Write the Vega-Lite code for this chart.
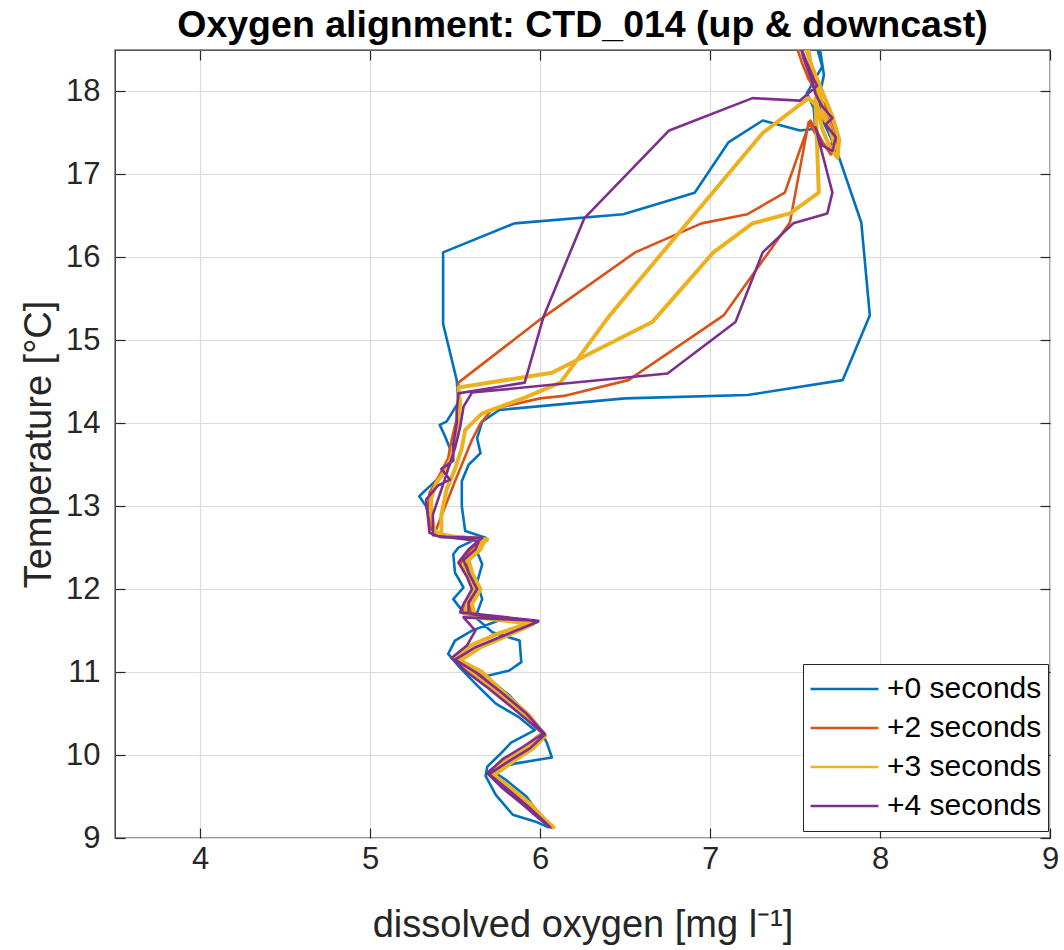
{
"$schema": "https://vega.github.io/schema/vega-lite/v6.json",
"width": 935, "height": 788,
"autosize": {"type": "none"},
"padding": {"left": 115, "top": 50, "right": 14, "bottom": 112},
"background": "white",
"config": {"view": {"stroke": "#262626", "strokeWidth": 1.3}, "font": "Liberation Sans"},
"title": {"text": "Oxygen alignment: CTD_014 (up & downcast)", "fontSize": 37.5, "font": "Liberation Sans", "fontWeight": "bold", "anchor": "middle", "offset": -3, "color": "black"},
"data": {"values": [
{"series":"+0 seconds","i":1,"oxygen":7.62,"temp":18.6},
{"series":"+0 seconds","i":2,"oxygen":7.66,"temp":18.3},
{"series":"+0 seconds","i":3,"oxygen":7.57,"temp":17.98},
{"series":"+0 seconds","i":4,"oxygen":7.61,"temp":17.8},
{"series":"+0 seconds","i":5,"oxygen":7.62,"temp":17.55},
{"series":"+0 seconds","i":6,"oxygen":7.53,"temp":17.53},
{"series":"+0 seconds","i":7,"oxygen":7.31,"temp":17.65},
{"series":"+0 seconds","i":8,"oxygen":7.11,"temp":17.39},
{"series":"+0 seconds","i":9,"oxygen":6.91,"temp":16.78},
{"series":"+0 seconds","i":10,"oxygen":6.49,"temp":16.52},
{"series":"+0 seconds","i":11,"oxygen":5.85,"temp":16.41},
{"series":"+0 seconds","i":12,"oxygen":5.43,"temp":16.06},
{"series":"+0 seconds","i":13,"oxygen":5.43,"temp":15.2},
{"series":"+0 seconds","i":14,"oxygen":5.51,"temp":14.52},
{"series":"+0 seconds","i":15,"oxygen":5.52,"temp":14.25},
{"series":"+0 seconds","i":16,"oxygen":5.45,"temp":14.02},
{"series":"+0 seconds","i":17,"oxygen":5.41,"temp":13.98},
{"series":"+0 seconds","i":18,"oxygen":5.44,"temp":13.85},
{"series":"+0 seconds","i":19,"oxygen":5.47,"temp":13.7},
{"series":"+0 seconds","i":20,"oxygen":5.47,"temp":13.5},
{"series":"+0 seconds","i":21,"oxygen":5.40,"temp":13.33},
{"series":"+0 seconds","i":22,"oxygen":5.33,"temp":13.2},
{"series":"+0 seconds","i":23,"oxygen":5.29,"temp":13.12},
{"series":"+0 seconds","i":24,"oxygen":5.33,"temp":13.0},
{"series":"+0 seconds","i":25,"oxygen":5.36,"temp":12.75},
{"series":"+0 seconds","i":26,"oxygen":5.42,"temp":12.63},
{"series":"+0 seconds","i":27,"oxygen":5.62,"temp":12.6},
{"series":"+0 seconds","i":28,"oxygen":5.52,"temp":12.5},
{"series":"+0 seconds","i":29,"oxygen":5.49,"temp":12.42},
{"series":"+0 seconds","i":30,"oxygen":5.5,"temp":12.2},
{"series":"+0 seconds","i":31,"oxygen":5.55,"temp":12.02},
{"series":"+0 seconds","i":32,"oxygen":5.49,"temp":11.88},
{"series":"+0 seconds","i":33,"oxygen":5.55,"temp":11.72},
{"series":"+0 seconds","i":34,"oxygen":5.78,"temp":11.64},
{"series":"+0 seconds","i":35,"oxygen":5.6,"temp":11.5},
{"series":"+0 seconds","i":36,"oxygen":5.5,"temp":11.38},
{"series":"+0 seconds","i":37,"oxygen":5.46,"temp":11.22},
{"series":"+0 seconds","i":38,"oxygen":5.53,"temp":11.05},
{"series":"+0 seconds","i":39,"oxygen":5.64,"temp":10.82},
{"series":"+0 seconds","i":40,"oxygen":5.74,"temp":10.62},
{"series":"+0 seconds","i":41,"oxygen":5.88,"temp":10.45},
{"series":"+0 seconds","i":42,"oxygen":5.97,"temp":10.3},
{"series":"+0 seconds","i":43,"oxygen":5.83,"temp":10.15},
{"series":"+0 seconds","i":44,"oxygen":5.76,"temp":10.0},
{"series":"+0 seconds","i":45,"oxygen":5.69,"temp":9.86},
{"series":"+0 seconds","i":46,"oxygen":5.68,"temp":9.75},
{"series":"+0 seconds","i":47,"oxygen":5.74,"temp":9.52},
{"series":"+0 seconds","i":48,"oxygen":5.84,"temp":9.28},
{"series":"+0 seconds","i":49,"oxygen":5.97,"temp":9.2},
{"series":"+0 seconds","i":50,"oxygen":6.05,"temp":9.13},
{"series":"+0 seconds","i":51,"oxygen":5.99,"temp":9.3},
{"series":"+0 seconds","i":52,"oxygen":5.92,"temp":9.5},
{"series":"+0 seconds","i":53,"oxygen":5.8,"temp":9.7},
{"series":"+0 seconds","i":54,"oxygen":5.71,"temp":9.82},
{"series":"+0 seconds","i":55,"oxygen":5.86,"temp":9.9},
{"series":"+0 seconds","i":56,"oxygen":6.07,"temp":9.97},
{"series":"+0 seconds","i":57,"oxygen":6.04,"temp":10.15},
{"series":"+0 seconds","i":58,"oxygen":6.0,"temp":10.3},
{"series":"+0 seconds","i":59,"oxygen":5.92,"temp":10.5},
{"series":"+0 seconds","i":60,"oxygen":5.82,"temp":10.72},
{"series":"+0 seconds","i":61,"oxygen":5.68,"temp":10.95},
{"series":"+0 seconds","i":62,"oxygen":5.82,"temp":11.02},
{"series":"+0 seconds","i":63,"oxygen":5.89,"temp":11.12},
{"series":"+0 seconds","i":64,"oxygen":5.88,"temp":11.38},
{"series":"+0 seconds","i":65,"oxygen":5.72,"temp":11.48},
{"series":"+0 seconds","i":66,"oxygen":5.62,"temp":11.66},
{"series":"+0 seconds","i":67,"oxygen":5.66,"temp":11.88},
{"series":"+0 seconds","i":68,"oxygen":5.63,"temp":12.08},
{"series":"+0 seconds","i":69,"oxygen":5.66,"temp":12.3},
{"series":"+0 seconds","i":70,"oxygen":5.62,"temp":12.5},
{"series":"+0 seconds","i":71,"oxygen":5.68,"temp":12.62},
{"series":"+0 seconds","i":72,"oxygen":5.56,"temp":12.7},
{"series":"+0 seconds","i":73,"oxygen":5.54,"temp":13.0},
{"series":"+0 seconds","i":74,"oxygen":5.54,"temp":13.3},
{"series":"+0 seconds","i":75,"oxygen":5.58,"temp":13.5},
{"series":"+0 seconds","i":76,"oxygen":5.65,"temp":13.64},
{"series":"+0 seconds","i":77,"oxygen":5.63,"temp":13.82},
{"series":"+0 seconds","i":78,"oxygen":5.66,"temp":14.02},
{"series":"+0 seconds","i":79,"oxygen":5.76,"temp":14.16},
{"series":"+0 seconds","i":80,"oxygen":6.5,"temp":14.3},
{"series":"+0 seconds","i":81,"oxygen":7.22,"temp":14.34},
{"series":"+0 seconds","i":82,"oxygen":7.78,"temp":14.52},
{"series":"+0 seconds","i":83,"oxygen":7.94,"temp":15.3},
{"series":"+0 seconds","i":84,"oxygen":7.89,"temp":16.42},
{"series":"+0 seconds","i":85,"oxygen":7.76,"temp":17.2},
{"series":"+0 seconds","i":86,"oxygen":7.72,"temp":17.4},
{"series":"+0 seconds","i":87,"oxygen":7.67,"temp":17.62},
{"series":"+0 seconds","i":88,"oxygen":7.64,"temp":17.9},
{"series":"+0 seconds","i":89,"oxygen":7.67,"temp":18.2},
{"series":"+0 seconds","i":90,"oxygen":7.64,"temp":18.6},
{"series":"+2 seconds","i":1,"oxygen":7.50,"temp":18.6},
{"series":"+2 seconds","i":2,"oxygen":7.54,"temp":18.35},
{"series":"+2 seconds","i":3,"oxygen":7.58,"temp":18.15},
{"series":"+2 seconds","i":4,"oxygen":7.64,"temp":17.95},
{"series":"+2 seconds","i":5,"oxygen":7.70,"temp":17.75},
{"series":"+2 seconds","i":6,"oxygen":7.74,"temp":17.5},
{"series":"+2 seconds","i":7,"oxygen":7.75,"temp":17.3},
{"series":"+2 seconds","i":8,"oxygen":7.71,"temp":17.24},
{"series":"+2 seconds","i":9,"oxygen":7.66,"temp":17.4},
{"series":"+2 seconds","i":10,"oxygen":7.62,"temp":17.55},
{"series":"+2 seconds","i":11,"oxygen":7.59,"temp":17.65},
{"series":"+2 seconds","i":12,"oxygen":7.44,"temp":16.78},
{"series":"+2 seconds","i":13,"oxygen":7.22,"temp":16.52},
{"series":"+2 seconds","i":14,"oxygen":6.95,"temp":16.41},
{"series":"+2 seconds","i":15,"oxygen":6.56,"temp":16.06},
{"series":"+2 seconds","i":16,"oxygen":6.0,"temp":15.25},
{"series":"+2 seconds","i":17,"oxygen":5.52,"temp":14.49},
{"series":"+2 seconds","i":18,"oxygen":5.52,"temp":14.3},
{"series":"+2 seconds","i":19,"oxygen":5.51,"temp":14.05},
{"series":"+2 seconds","i":20,"oxygen":5.48,"temp":13.8},
{"series":"+2 seconds","i":21,"oxygen":5.46,"temp":13.58},
{"series":"+2 seconds","i":22,"oxygen":5.41,"temp":13.38},
{"series":"+2 seconds","i":23,"oxygen":5.35,"temp":13.16},
{"series":"+2 seconds","i":24,"oxygen":5.34,"temp":12.95},
{"series":"+2 seconds","i":25,"oxygen":5.36,"temp":12.72},
{"series":"+2 seconds","i":26,"oxygen":5.42,"temp":12.65},
{"series":"+2 seconds","i":27,"oxygen":5.67,"temp":12.61},
{"series":"+2 seconds","i":28,"oxygen":5.59,"temp":12.47},
{"series":"+2 seconds","i":29,"oxygen":5.53,"temp":12.3},
{"series":"+2 seconds","i":30,"oxygen":5.58,"temp":12.15},
{"series":"+2 seconds","i":31,"oxygen":5.61,"temp":12.0},
{"series":"+2 seconds","i":32,"oxygen":5.56,"temp":11.82},
{"series":"+2 seconds","i":33,"oxygen":5.55,"temp":11.7},
{"series":"+2 seconds","i":34,"oxygen":5.97,"temp":11.62},
{"series":"+2 seconds","i":35,"oxygen":5.78,"temp":11.48},
{"series":"+2 seconds","i":36,"oxygen":5.59,"temp":11.32},
{"series":"+2 seconds","i":37,"oxygen":5.49,"temp":11.18},
{"series":"+2 seconds","i":38,"oxygen":5.58,"temp":11.0},
{"series":"+2 seconds","i":39,"oxygen":5.71,"temp":10.8},
{"series":"+2 seconds","i":40,"oxygen":5.86,"temp":10.55},
{"series":"+2 seconds","i":41,"oxygen":6.01,"temp":10.27},
{"series":"+2 seconds","i":42,"oxygen":5.91,"temp":10.1},
{"series":"+2 seconds","i":43,"oxygen":5.79,"temp":9.95},
{"series":"+2 seconds","i":44,"oxygen":5.70,"temp":9.8},
{"series":"+2 seconds","i":45,"oxygen":5.79,"temp":9.6},
{"series":"+2 seconds","i":46,"oxygen":5.91,"temp":9.4},
{"series":"+2 seconds","i":47,"oxygen":5.99,"temp":9.25},
{"series":"+2 seconds","i":48,"oxygen":6.07,"temp":9.12},
{"series":"+2 seconds","i":49,"oxygen":6.02,"temp":9.2},
{"series":"+2 seconds","i":50,"oxygen":5.94,"temp":9.38},
{"series":"+2 seconds","i":51,"oxygen":5.82,"temp":9.58},
{"series":"+2 seconds","i":52,"oxygen":5.71,"temp":9.77},
{"series":"+2 seconds","i":53,"oxygen":5.82,"temp":9.93},
{"series":"+2 seconds","i":54,"oxygen":5.95,"temp":10.08},
{"series":"+2 seconds","i":55,"oxygen":6.03,"temp":10.24},
{"series":"+2 seconds","i":56,"oxygen":5.93,"temp":10.48},
{"series":"+2 seconds","i":57,"oxygen":5.79,"temp":10.74},
{"series":"+2 seconds","i":58,"oxygen":5.64,"temp":11.0},
{"series":"+2 seconds","i":59,"oxygen":5.52,"temp":11.14},
{"series":"+2 seconds","i":60,"oxygen":5.63,"temp":11.3},
{"series":"+2 seconds","i":61,"oxygen":5.8,"temp":11.45},
{"series":"+2 seconds","i":62,"oxygen":5.98,"temp":11.6},
{"series":"+2 seconds","i":63,"oxygen":5.6,"temp":11.67},
{"series":"+2 seconds","i":64,"oxygen":5.59,"temp":11.82},
{"series":"+2 seconds","i":65,"oxygen":5.64,"temp":12.0},
{"series":"+2 seconds","i":66,"oxygen":5.59,"temp":12.2},
{"series":"+2 seconds","i":67,"oxygen":5.56,"temp":12.35},
{"series":"+2 seconds","i":68,"oxygen":5.64,"temp":12.48},
{"series":"+2 seconds","i":69,"oxygen":5.66,"temp":12.58},
{"series":"+2 seconds","i":70,"oxygen":5.38,"temp":12.67},
{"series":"+2 seconds","i":71,"oxygen":5.5,"temp":13.3},
{"series":"+2 seconds","i":72,"oxygen":5.6,"temp":13.8},
{"series":"+2 seconds","i":73,"oxygen":5.65,"temp":14.0},
{"series":"+2 seconds","i":74,"oxygen":5.72,"temp":14.17},
{"series":"+2 seconds","i":75,"oxygen":6.0,"temp":14.3},
{"series":"+2 seconds","i":76,"oxygen":6.14,"temp":14.33},
{"series":"+2 seconds","i":77,"oxygen":6.52,"temp":14.52},
{"series":"+2 seconds","i":78,"oxygen":7.08,"temp":15.3},
{"series":"+2 seconds","i":79,"oxygen":7.47,"temp":16.42},
{"series":"+2 seconds","i":80,"oxygen":7.58,"temp":17.63},
{"series":"+2 seconds","i":81,"oxygen":7.64,"temp":17.42},
{"series":"+2 seconds","i":82,"oxygen":7.7,"temp":17.3},
{"series":"+2 seconds","i":83,"oxygen":7.73,"temp":17.45},
{"series":"+2 seconds","i":84,"oxygen":7.69,"temp":17.7},
{"series":"+2 seconds","i":85,"oxygen":7.64,"temp":17.92},
{"series":"+2 seconds","i":86,"oxygen":7.6,"temp":18.12},
{"series":"+2 seconds","i":87,"oxygen":7.56,"temp":18.35},
{"series":"+2 seconds","i":88,"oxygen":7.52,"temp":18.6},
{"series":"+3 seconds","i":1,"oxygen":7.55,"temp":18.6},
{"series":"+3 seconds","i":2,"oxygen":7.6,"temp":18.3},
{"series":"+3 seconds","i":3,"oxygen":7.66,"temp":18.0},
{"series":"+3 seconds","i":4,"oxygen":7.72,"temp":17.7},
{"series":"+3 seconds","i":5,"oxygen":7.76,"temp":17.42},
{"series":"+3 seconds","i":6,"oxygen":7.75,"temp":17.2},
{"series":"+3 seconds","i":7,"oxygen":7.7,"temp":17.35},
{"series":"+3 seconds","i":8,"oxygen":7.66,"temp":17.55},
{"series":"+3 seconds","i":9,"oxygen":7.64,"temp":17.75},
{"series":"+3 seconds","i":10,"oxygen":7.62,"temp":17.92},
{"series":"+3 seconds","i":11,"oxygen":7.64,"temp":16.78},
{"series":"+3 seconds","i":12,"oxygen":7.47,"temp":16.53},
{"series":"+3 seconds","i":13,"oxygen":7.25,"temp":16.41},
{"series":"+3 seconds","i":14,"oxygen":7.02,"temp":16.06},
{"series":"+3 seconds","i":15,"oxygen":6.66,"temp":15.22},
{"series":"+3 seconds","i":16,"oxygen":6.07,"temp":14.61},
{"series":"+3 seconds","i":17,"oxygen":5.52,"temp":14.43},
{"series":"+3 seconds","i":18,"oxygen":5.53,"temp":14.25},
{"series":"+3 seconds","i":19,"oxygen":5.52,"temp":14.05},
{"series":"+3 seconds","i":20,"oxygen":5.50,"temp":13.8},
{"series":"+3 seconds","i":21,"oxygen":5.48,"temp":13.6},
{"series":"+3 seconds","i":22,"oxygen":5.44,"temp":13.42},
{"series":"+3 seconds","i":23,"oxygen":5.39,"temp":13.28},
{"series":"+3 seconds","i":24,"oxygen":5.36,"temp":13.1},
{"series":"+3 seconds","i":25,"oxygen":5.36,"temp":12.9},
{"series":"+3 seconds","i":26,"oxygen":5.38,"temp":12.7},
{"series":"+3 seconds","i":27,"oxygen":5.44,"temp":12.64},
{"series":"+3 seconds","i":28,"oxygen":5.69,"temp":12.6},
{"series":"+3 seconds","i":29,"oxygen":5.61,"temp":12.46},
{"series":"+3 seconds","i":30,"oxygen":5.55,"temp":12.3},
{"series":"+3 seconds","i":31,"oxygen":5.59,"temp":12.13},
{"series":"+3 seconds","i":32,"oxygen":5.62,"temp":12.0},
{"series":"+3 seconds","i":33,"oxygen":5.57,"temp":11.82},
{"series":"+3 seconds","i":34,"oxygen":5.56,"temp":11.7},
{"series":"+3 seconds","i":35,"oxygen":5.95,"temp":11.6},
{"series":"+3 seconds","i":36,"oxygen":5.76,"temp":11.47},
{"series":"+3 seconds","i":37,"oxygen":5.6,"temp":11.33},
{"series":"+3 seconds","i":38,"oxygen":5.5,"temp":11.19},
{"series":"+3 seconds","i":39,"oxygen":5.59,"temp":11.0},
{"series":"+3 seconds","i":40,"oxygen":5.72,"temp":10.8},
{"series":"+3 seconds","i":41,"oxygen":5.87,"temp":10.55},
{"series":"+3 seconds","i":42,"oxygen":6.02,"temp":10.27},
{"series":"+3 seconds","i":43,"oxygen":5.92,"temp":10.1},
{"series":"+3 seconds","i":44,"oxygen":5.8,"temp":9.95},
{"series":"+3 seconds","i":45,"oxygen":5.71,"temp":9.79},
{"series":"+3 seconds","i":46,"oxygen":5.8,"temp":9.6},
{"series":"+3 seconds","i":47,"oxygen":5.92,"temp":9.4},
{"series":"+3 seconds","i":48,"oxygen":6.0,"temp":9.25},
{"series":"+3 seconds","i":49,"oxygen":6.08,"temp":9.13},
{"series":"+3 seconds","i":50,"oxygen":6.03,"temp":9.22},
{"series":"+3 seconds","i":51,"oxygen":5.95,"temp":9.4},
{"series":"+3 seconds","i":52,"oxygen":5.84,"temp":9.58},
{"series":"+3 seconds","i":53,"oxygen":5.73,"temp":9.76},
{"series":"+3 seconds","i":54,"oxygen":5.84,"temp":9.92},
{"series":"+3 seconds","i":55,"oxygen":5.96,"temp":10.08},
{"series":"+3 seconds","i":56,"oxygen":6.03,"temp":10.23},
{"series":"+3 seconds","i":57,"oxygen":5.94,"temp":10.47},
{"series":"+3 seconds","i":58,"oxygen":5.8,"temp":10.73},
{"series":"+3 seconds","i":59,"oxygen":5.66,"temp":11.0},
{"series":"+3 seconds","i":60,"oxygen":5.53,"temp":11.14},
{"series":"+3 seconds","i":61,"oxygen":5.65,"temp":11.3},
{"series":"+3 seconds","i":62,"oxygen":5.82,"temp":11.45},
{"series":"+3 seconds","i":63,"oxygen":5.96,"temp":11.58},
{"series":"+3 seconds","i":64,"oxygen":5.62,"temp":11.66},
{"series":"+3 seconds","i":65,"oxygen":5.6,"temp":11.82},
{"series":"+3 seconds","i":66,"oxygen":5.65,"temp":12.0},
{"series":"+3 seconds","i":67,"oxygen":5.6,"temp":12.2},
{"series":"+3 seconds","i":68,"oxygen":5.58,"temp":12.35},
{"series":"+3 seconds","i":69,"oxygen":5.65,"temp":12.48},
{"series":"+3 seconds","i":70,"oxygen":5.67,"temp":12.57},
{"series":"+3 seconds","i":71,"oxygen":5.42,"temp":12.66},
{"series":"+3 seconds","i":72,"oxygen":5.42,"temp":12.9},
{"series":"+3 seconds","i":73,"oxygen":5.45,"temp":13.2},
{"series":"+3 seconds","i":74,"oxygen":5.5,"temp":13.45},
{"series":"+3 seconds","i":75,"oxygen":5.54,"temp":13.7},
{"series":"+3 seconds","i":76,"oxygen":5.56,"temp":13.92},
{"series":"+3 seconds","i":77,"oxygen":5.66,"temp":14.12},
{"series":"+3 seconds","i":78,"oxygen":5.9,"temp":14.3},
{"series":"+3 seconds","i":79,"oxygen":6.12,"temp":14.49},
{"series":"+3 seconds","i":80,"oxygen":6.41,"temp":15.3},
{"series":"+3 seconds","i":81,"oxygen":7.31,"temp":17.5},
{"series":"+3 seconds","i":82,"oxygen":7.58,"temp":17.92},
{"series":"+3 seconds","i":83,"oxygen":7.63,"temp":17.82},
{"series":"+3 seconds","i":84,"oxygen":7.7,"temp":17.58},
{"series":"+3 seconds","i":85,"oxygen":7.74,"temp":17.32},
{"series":"+3 seconds","i":86,"oxygen":7.71,"temp":17.52},
{"series":"+3 seconds","i":87,"oxygen":7.67,"temp":17.76},
{"series":"+3 seconds","i":88,"oxygen":7.64,"temp":18.0},
{"series":"+3 seconds","i":89,"oxygen":7.6,"temp":18.25},
{"series":"+3 seconds","i":90,"oxygen":7.57,"temp":18.6},
{"series":"+4 seconds","i":1,"oxygen":7.52,"temp":18.6},
{"series":"+4 seconds","i":2,"oxygen":7.57,"temp":18.35},
{"series":"+4 seconds","i":3,"oxygen":7.61,"temp":18.15},
{"series":"+4 seconds","i":4,"oxygen":7.63,"temp":18.07},
{"series":"+4 seconds","i":5,"oxygen":7.53,"temp":17.89},
{"series":"+4 seconds","i":6,"oxygen":7.25,"temp":17.92},
{"series":"+4 seconds","i":7,"oxygen":6.76,"temp":17.53},
{"series":"+4 seconds","i":8,"oxygen":6.26,"temp":16.47},
{"series":"+4 seconds","i":9,"oxygen":6.02,"temp":15.28},
{"series":"+4 seconds","i":10,"oxygen":5.91,"temp":14.49},
{"series":"+4 seconds","i":11,"oxygen":5.52,"temp":14.36},
{"series":"+4 seconds","i":12,"oxygen":5.51,"temp":14.15},
{"series":"+4 seconds","i":13,"oxygen":5.51,"temp":14.0},
{"series":"+4 seconds","i":14,"oxygen":5.49,"temp":13.75},
{"series":"+4 seconds","i":15,"oxygen":5.49,"temp":13.55},
{"series":"+4 seconds","i":16,"oxygen":5.42,"temp":13.45},
{"series":"+4 seconds","i":17,"oxygen":5.47,"temp":13.32},
{"series":"+4 seconds","i":18,"oxygen":5.4,"temp":13.25},
{"series":"+4 seconds","i":19,"oxygen":5.33,"temp":13.08},
{"series":"+4 seconds","i":20,"oxygen":5.34,"temp":12.88},
{"series":"+4 seconds","i":21,"oxygen":5.35,"temp":12.68},
{"series":"+4 seconds","i":22,"oxygen":5.41,"temp":12.63},
{"series":"+4 seconds","i":23,"oxygen":5.66,"temp":12.62},
{"series":"+4 seconds","i":24,"oxygen":5.58,"temp":12.48},
{"series":"+4 seconds","i":25,"oxygen":5.52,"temp":12.32},
{"series":"+4 seconds","i":26,"oxygen":5.57,"temp":12.15},
{"series":"+4 seconds","i":27,"oxygen":5.6,"temp":12.0},
{"series":"+4 seconds","i":28,"oxygen":5.55,"temp":11.82},
{"series":"+4 seconds","i":29,"oxygen":5.53,"temp":11.72},
{"series":"+4 seconds","i":30,"oxygen":5.99,"temp":11.62},
{"series":"+4 seconds","i":31,"oxygen":5.55,"temp":11.66},
{"series":"+4 seconds","i":32,"oxygen":5.62,"temp":11.5},
{"series":"+4 seconds","i":33,"oxygen":5.57,"temp":11.32},
{"series":"+4 seconds","i":34,"oxygen":5.48,"temp":11.17},
{"series":"+4 seconds","i":35,"oxygen":5.57,"temp":11.0},
{"series":"+4 seconds","i":36,"oxygen":5.7,"temp":10.8},
{"series":"+4 seconds","i":37,"oxygen":5.85,"temp":10.55},
{"series":"+4 seconds","i":38,"oxygen":6.02,"temp":10.26},
{"series":"+4 seconds","i":39,"oxygen":5.9,"temp":10.1},
{"series":"+4 seconds","i":40,"oxygen":5.78,"temp":9.95},
{"series":"+4 seconds","i":41,"oxygen":5.69,"temp":9.78},
{"series":"+4 seconds","i":42,"oxygen":5.78,"temp":9.6},
{"series":"+4 seconds","i":43,"oxygen":5.9,"temp":9.4},
{"series":"+4 seconds","i":44,"oxygen":5.99,"temp":9.24},
{"series":"+4 seconds","i":45,"oxygen":6.06,"temp":9.13},
{"series":"+4 seconds","i":46,"oxygen":6.02,"temp":9.21},
{"series":"+4 seconds","i":47,"oxygen":5.93,"temp":9.38},
{"series":"+4 seconds","i":48,"oxygen":5.82,"temp":9.57},
{"series":"+4 seconds","i":49,"oxygen":5.7,"temp":9.77},
{"series":"+4 seconds","i":50,"oxygen":5.82,"temp":9.93},
{"series":"+4 seconds","i":51,"oxygen":5.94,"temp":10.08},
{"series":"+4 seconds","i":52,"oxygen":6.03,"temp":10.25},
{"series":"+4 seconds","i":53,"oxygen":5.92,"temp":10.5},
{"series":"+4 seconds","i":54,"oxygen":5.77,"temp":10.76},
{"series":"+4 seconds","i":55,"oxygen":5.62,"temp":11.0},
{"series":"+4 seconds","i":56,"oxygen":5.5,"temp":11.15},
{"series":"+4 seconds","i":57,"oxygen":5.62,"temp":11.3},
{"series":"+4 seconds","i":58,"oxygen":5.8,"temp":11.45},
{"series":"+4 seconds","i":59,"oxygen":5.99,"temp":11.61},
{"series":"+4 seconds","i":60,"oxygen":5.58,"temp":11.7},
{"series":"+4 seconds","i":61,"oxygen":5.58,"temp":11.84},
{"series":"+4 seconds","i":62,"oxygen":5.63,"temp":12.0},
{"series":"+4 seconds","i":63,"oxygen":5.58,"temp":12.2},
{"series":"+4 seconds","i":64,"oxygen":5.55,"temp":12.35},
{"series":"+4 seconds","i":65,"oxygen":5.62,"temp":12.48},
{"series":"+4 seconds","i":66,"oxygen":5.64,"temp":12.58},
{"series":"+4 seconds","i":67,"oxygen":5.37,"temp":12.65},
{"series":"+4 seconds","i":68,"oxygen":5.37,"temp":12.9},
{"series":"+4 seconds","i":69,"oxygen":5.42,"temp":13.2},
{"series":"+4 seconds","i":70,"oxygen":5.46,"temp":13.45},
{"series":"+4 seconds","i":71,"oxygen":5.5,"temp":13.7},
{"series":"+4 seconds","i":72,"oxygen":5.53,"temp":13.95},
{"series":"+4 seconds","i":73,"oxygen":5.55,"temp":14.2},
{"series":"+4 seconds","i":74,"oxygen":5.6,"temp":14.37},
{"series":"+4 seconds","i":75,"oxygen":6.75,"temp":14.6},
{"series":"+4 seconds","i":76,"oxygen":7.15,"temp":15.22},
{"series":"+4 seconds","i":77,"oxygen":7.31,"temp":16.06},
{"series":"+4 seconds","i":78,"oxygen":7.49,"temp":16.41},
{"series":"+4 seconds","i":79,"oxygen":7.69,"temp":16.53},
{"series":"+4 seconds","i":80,"oxygen":7.72,"temp":16.78},
{"series":"+4 seconds","i":81,"oxygen":7.62,"temp":17.57},
{"series":"+4 seconds","i":82,"oxygen":7.66,"temp":17.35},
{"series":"+4 seconds","i":83,"oxygen":7.72,"temp":17.28},
{"series":"+4 seconds","i":84,"oxygen":7.74,"temp":17.45},
{"series":"+4 seconds","i":85,"oxygen":7.68,"temp":17.6},
{"series":"+4 seconds","i":86,"oxygen":7.72,"temp":17.68},
{"series":"+4 seconds","i":87,"oxygen":7.66,"temp":17.82},
{"series":"+4 seconds","i":88,"oxygen":7.62,"temp":17.97},
{"series":"+4 seconds","i":89,"oxygen":7.59,"temp":18.2},
{"series":"+4 seconds","i":90,"oxygen":7.55,"temp":18.4},
{"series":"+4 seconds","i":91,"oxygen":7.53,"temp":18.6}
]},
"layer": [
{
"transform": [{"filter": "datum.series == '+0 seconds' || datum.series == '+2 seconds'"}],
"mark": {"type": "line", "clip": true, "strokeJoin": "round", "strokeWidth": 2.6},
"encoding": {
"x": {"field": "oxygen", "type": "quantitative", "scale": {"domain": [3.5, 9], "nice": false, "zero": false},
  "axis": {"orient": "bottom", "values": [4,5,6,7,8,9], "grid": true, "gridColor": "#dcdcdc", "gridWidth": 1.2, "domain": false, "ticks": true, "tickSize": -10, "tickColor": "#262626", "tickWidth": 1.2, "labelFontSize": 31, "labelColor": "#262626", "labelPadding": 16, "labelFlush": false, "labelOverlap": false, "title": "dissolved oxygen [mg l⁻¹]", "titleFontSize": 38, "titleFontWeight": "normal", "titleColor": "#262626", "titlePadding": 32}},
"y": {"field": "temp", "type": "quantitative", "scale": {"domain": [9, 18.5], "nice": false, "zero": false},
  "axis": {"orient": "left", "values": [9,10,11,12,13,14,15,16,17,18], "grid": true, "gridColor": "#dcdcdc", "gridWidth": 1.2, "domain": false, "ticks": true, "tickSize": -10, "tickColor": "#262626", "tickWidth": 1.2, "labelFontSize": 31, "labelColor": "#262626", "labelPadding": 25, "labelFlush": false, "labelOverlap": false, "title": "Temperature [°C]", "titleFontSize": 38, "titleFontWeight": "normal", "titleColor": "#262626", "titlePadding": 7}},
"color": {"field": "series", "type": "nominal", "scale": {"domain": ["+0 seconds","+2 seconds","+3 seconds","+4 seconds"], "range": ["#0072BD","#D95319","#EDB120","#7E2F8E"]},
  "legend": {"orient": "none", "legendX": 688, "legendY": 614, "title": null, "strokeColor": "#262626", "fillColor": "white", "padding": 6, "symbolType": "stroke", "symbolSize": 4600, "symbolStrokeWidth": 2.6, "clipHeight": 38, "rowPadding": 1, "labelFontSize": 30, "labelColor": "black", "labelOffset": 7, "cornerRadius": 0}},
"order": {"field": "i", "type": "quantitative"}
}
},
{
"transform": [{"filter": "datum.series == '+3 seconds'"}],
"mark": {"type": "line", "clip": true, "strokeJoin": "round", "strokeWidth": 4},
"encoding": {
"x": {"field": "oxygen", "type": "quantitative", "axis": null},
"y": {"field": "temp", "type": "quantitative", "axis": null},
"color": {"field": "series", "type": "nominal"},
"order": {"field": "i", "type": "quantitative"}
}
},
{
"transform": [{"filter": "datum.series == '+4 seconds'"}],
"mark": {"type": "line", "clip": true, "strokeJoin": "round", "strokeWidth": 2.6},
"encoding": {
"x": {"field": "oxygen", "type": "quantitative", "axis": null},
"y": {"field": "temp", "type": "quantitative", "axis": null},
"color": {"field": "series", "type": "nominal"},
"order": {"field": "i", "type": "quantitative"}
}
},
{
"mark": {"type": "line", "opacity": 0},
"encoding": {
"x": {"field": "oxygen", "type": "quantitative", "axis": {"orient": "top", "values": [4,5,6,7,8,9], "labels": false, "grid": false, "domain": false, "tickSize": -10, "tickColor": "#262626", "tickWidth": 1.2, "title": null}},
"y": {"field": "temp", "type": "quantitative", "axis": {"orient": "right", "values": [9,10,11,12,13,14,15,16,17,18], "labels": false, "grid": false, "domain": false, "tickSize": -10, "tickColor": "#262626", "tickWidth": 1.2, "title": null}},
"order": {"field": "i", "type": "quantitative"}
}
}
],
"resolve": {"axis": {"x": "independent", "y": "independent"}}
}
